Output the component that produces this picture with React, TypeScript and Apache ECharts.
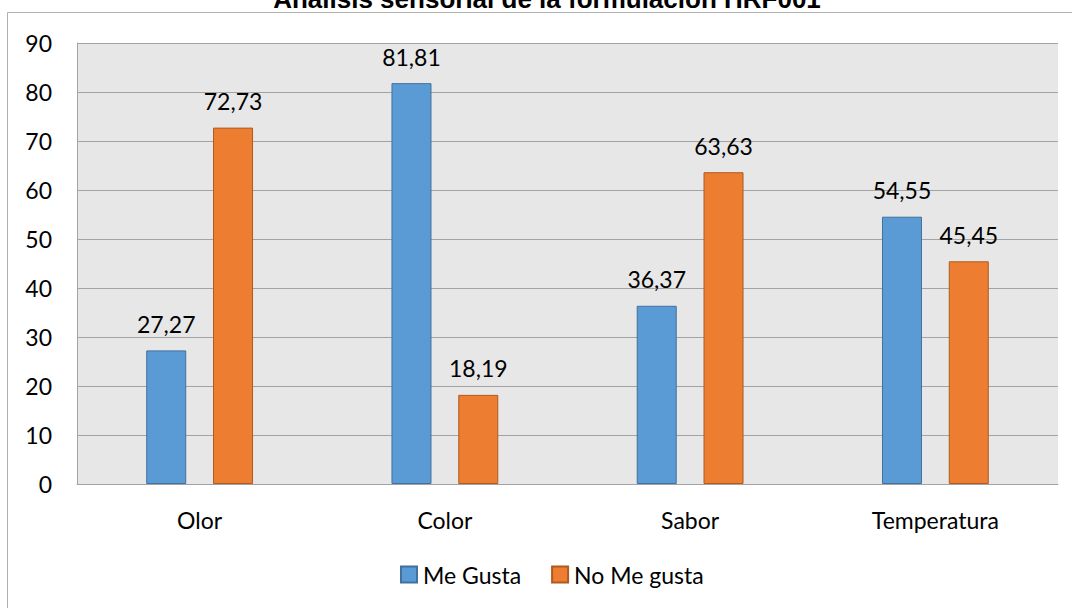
import React, { useEffect, useRef } from "react";
import * as echarts from "echarts";

const categories = ["Olor", "Color", "Sabor", "Temperatura"];
const meGusta = [27.27, 81.81, 36.37, 54.55];
const noMeGusta = [72.73, 18.19, 63.63, 45.45];
const seriesNames = ["Me Gusta", "No Me gusta"];
const titleText = "Análisis sensorial de la formulación HRF001";

const FONT = "Lato, 'Open Sans', sans-serif";
const GRID_GRAY = "#a3a3a3";

export default function App() {
  const ref = useRef<HTMLDivElement>(null);

  useEffect(() => {
    if (!ref.current) return;
    const chart = echarts.init(ref.current, undefined, { renderer: "svg" });

    const fmt = (p: any) => String(p.value.toFixed(2)).replace(".", ",");

    chart.setOption({
      animation: false,
      backgroundColor: "#ffffff",
      textStyle: { fontFamily: FONT },
      graphic: [
        {
          type: "rect",
          shape: { x: 7.5, y: 12.5, width: 1080, height: 620 },
          style: { fill: "none", stroke: "#b0b0b0", lineWidth: 1 },
          silent: true,
          z: -1,
        },
        {
          type: "text",
          x: 547,
          y: -1,
          style: {
            text: titleText,
            fontFamily: "'Liberation Sans', Arial, sans-serif",
            fontWeight: "bold",
            fontSize: 26,
            fill: "#000000",
            align: "center",
            verticalAlign: "middle",
          },
        },
      ],
      legend: {
        data: seriesNames,
        left: 395,
        top: 558,
        itemWidth: 16,
        itemHeight: 16,
        itemGap: 30,
        icon: "rect",
        textStyle: { fontFamily: FONT, fontSize: 23, color: "#000000", padding: [0, 0, 0, 1] },
      },
      grid: {
        left: 77,
        top: 43,
        right: 14,
        bottom: 124,
        show: true,
        backgroundColor: "#e7e7e7",
        borderWidth: 0,
      },
      xAxis: {
        type: "category",
        data: categories,
        axisTick: { show: false },
        axisLine: { show: true, lineStyle: { color: GRID_GRAY, width: 1 } },
        axisLabel: { fontFamily: FONT, fontSize: 23, color: "#000000", margin: 24 },
      },
      yAxis: {
        type: "value",
        min: 0,
        max: 90,
        interval: 10,
        axisLine: { show: true, lineStyle: { color: GRID_GRAY, width: 1 } },
        axisTick: { show: false },
        splitLine: { show: true, lineStyle: { color: GRID_GRAY, width: 1 } },
        axisLabel: { fontFamily: FONT, fontSize: 23, color: "#000000", margin: 25 },
      },
      series: [
        {
          name: seriesNames[0],
          type: "bar",
          data: meGusta,
          barWidth: 40,
          barGap: "67%",
          itemStyle: { color: "#5b9bd5", borderColor: "#41719c", borderWidth: 1 },
          label: {
            show: true,
            position: "top",
            distance: 15,
            formatter: fmt,
            fontFamily: FONT,
            fontSize: 23,
            color: "#000000",
          },
        },
        {
          name: seriesNames[1],
          type: "bar",
          data: noMeGusta,
          barWidth: 40,
          barGap: "67%",
          itemStyle: { color: "#ed7d31", borderColor: "#ae5a21", borderWidth: 1 },
          label: {
            show: true,
            position: "top",
            distance: 15,
            formatter: fmt,
            fontFamily: FONT,
            fontSize: 23,
            color: "#000000",
          },
        },
      ],
    });

    return () => chart.dispose();
  }, []);

  return (
    <div
      ref={ref}
      style={{ position: "absolute", left: 0, top: 0, width: 1072, height: 608 }}
    />
  );
}
